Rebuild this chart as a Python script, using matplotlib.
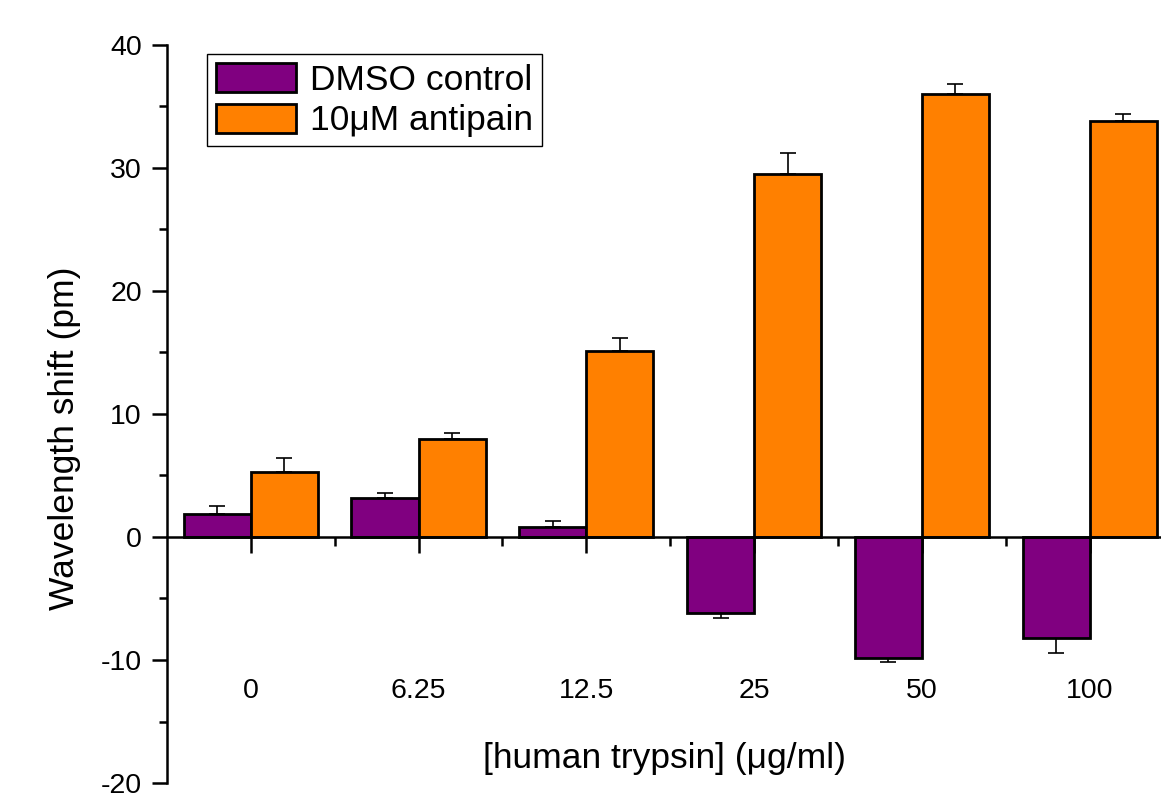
import matplotlib.pyplot as plt
import numpy as np

plt.rcParams['font.family'] = ['Liberation Sans', 'DejaVu Sans']
plt.rcParams['axes.unicode_minus'] = False

# trypsin concentrations (ug/ml)
conc = ['0', '6.25', '12.5', '25', '50', '100']
dmso = [1.85, 3.15, 0.85, -6.2, -9.85, -8.25]
dmso_err = [0.65, 0.4, 0.42, 0.42, 0.35, 1.15]
antipain = [5.25, 8.0, 15.1, 29.5, 36.0, 33.85]
antipain_err = [1.2, 0.42, 1.05, 1.7, 0.85, 0.5]

purple = '#800080'
orange = '#ff8000'

fig = plt.figure(figsize=(11.61, 7.94), dpi=100)
ax = fig.add_axes([0.1438, 0.01385, 0.867, 0.9295])

x = np.arange(len(conc))
w = 0.4

# error bars only go away from zero
def one_sided(vals, errs):
    lo = [e if v < 0 else 0 for v, e in zip(vals, errs)]
    hi = [e if v >= 0 else 0 for v, e in zip(vals, errs)]
    return [lo, hi]

ax.bar(x - w / 2, dmso, w, color=purple, edgecolor='black', linewidth=2,
       label='DMSO control', zorder=3)
ax.bar(x + w / 2, antipain, w, color=orange, edgecolor='black', linewidth=2,
       label='10\u03bcM antipain', zorder=3)
ax.errorbar(x - w / 2, dmso, yerr=one_sided(dmso, dmso_err), fmt='none',
            ecolor='black', elinewidth=1.2, capsize=5.5, capthick=1.2, zorder=2)
ax.errorbar(x + w / 2, antipain, yerr=one_sided(antipain, antipain_err), fmt='none',
            ecolor='black', elinewidth=1.2, capsize=5.5, capthick=1.2, zorder=2)

ax.set_xlim(-0.5, 5.5)
ax.set_ylim(-20, 40)

ax.spines['top'].set_visible(False)
ax.spines['right'].set_visible(False)
ax.spines['bottom'].set_position(('data', 0))
ax.spines['left'].set_linewidth(1.8)
ax.spines['bottom'].set_linewidth(1.8)
ax.spines['bottom'].set_zorder(4)

ax.set_yticks([-20, -10, 0, 10, 20, 30, 40])
ax.set_yticks([-15, -5, 5, 15, 25, 35], minor=True)
ax.tick_params(axis='y', which='major', direction='out', length=11, width=1.8,
               labelsize=20.5, pad=7)
ax.tick_params(axis='y', which='minor', direction='out', length=6, width=1.8)

ax.set_xticks(x)
ax.set_xticklabels(conc)
ax.set_xticks(x[:-1] + 0.5, minor=True)
ax.tick_params(axis='x', which='major', direction='out', length=11.5, width=1.8,
               labelsize=20.5, pad=90)
ax.tick_params(axis='x', which='minor', direction='out', length=6.5, width=1.8)

ax.set_ylabel('Wavelength shift (pm)', fontsize=25.5)
ax.yaxis.set_label_coords(-0.085, 0.4675)
ax.set_xlabel('[human trypsin] (\u03bcg/ml)', fontsize=25.5)
ax.xaxis.set_label_coords(0.4945, 0.056)

leg = ax.legend(loc='upper left', bbox_to_anchor=(207 / 1161, 1 - 54 / 794),
                bbox_transform=fig.transFigure, borderaxespad=0, fontsize=25.5,
                fancybox=False, edgecolor='black', framealpha=1,
                handlelength=2.26, handleheight=0.88, labelspacing=0.2,
                borderpad=0.25, handletextpad=0.4)
leg.get_frame().set_linewidth(1.0)

fig.savefig('out.png', dpi=100)
